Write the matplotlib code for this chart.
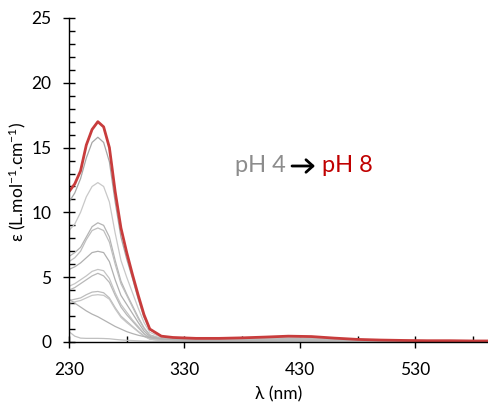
import matplotlib
matplotlib.use("Agg")
import matplotlib.pyplot as plt
from matplotlib.ticker import MultipleLocator, FixedLocator

plt.rcParams['font.family'] = ['Lato', 'DejaVu Sans']
plt.rcParams['mathtext.fontset'] = 'custom'
plt.rcParams['mathtext.rm'] = 'Lato'
plt.rcParams['mathtext.it'] = 'Lato:italic'

wavelength = [230, 235, 240, 245, 250, 255, 260, 265, 270, 275, 280, 285, 290, 295, 300,
              310, 320, 340, 360, 380, 400, 420, 440, 460, 480, 500, 520, 540, 560, 580, 593]

red_pH8 = [11.6, 12.2, 13.2, 15.2, 16.4, 17.0, 16.6, 15.0, 11.6, 8.8, 6.9, 5.2, 3.6, 2.1, 1.0,
           0.45, 0.35, 0.28, 0.28, 0.32, 0.38, 0.45, 0.42, 0.3, 0.2, 0.15, 0.12, 0.1, 0.1, 0.08, 0.08]

gray_series = [
    [10.8, 11.5, 12.6, 14.2, 15.4, 15.8, 15.4, 13.9, 10.8, 8.1, 6.4, 4.9, 3.3, 1.9, 0.95,
     0.43, 0.32, 0.25, 0.25, 0.29, 0.34, 0.4, 0.38, 0.27, 0.18, 0.13, 0.11, 0.09, 0.09, 0.07, 0.07],
    [8.6, 9.1, 10.0, 11.2, 12.0, 12.3, 12.0, 10.8, 8.4, 6.3, 5.0, 3.8, 2.6, 1.5, 0.75,
     0.35, 0.26, 0.2, 0.2, 0.24, 0.28, 0.33, 0.31, 0.22, 0.15, 0.11, 0.09, 0.08, 0.07, 0.06, 0.06],
    [6.6, 6.9, 7.3, 8.1, 8.9, 9.2, 9.0, 8.1, 6.3, 4.7, 3.7, 2.8, 1.9, 1.1, 0.55,
     0.27, 0.2, 0.16, 0.16, 0.19, 0.23, 0.27, 0.25, 0.18, 0.12, 0.09, 0.07, 0.06, 0.06, 0.05, 0.05],
    [6.2, 6.5, 7.0, 7.9, 8.6, 8.8, 8.6, 7.7, 6.0, 4.5, 3.6, 2.7, 1.8, 1.05, 0.53,
     0.25, 0.19, 0.15, 0.15, 0.18, 0.22, 0.25, 0.24, 0.17, 0.11, 0.08, 0.07, 0.06, 0.05, 0.05, 0.05],
    [5.6, 5.8, 6.1, 6.5, 6.9, 7.0, 6.9, 6.2, 4.8, 3.6, 2.9, 2.2, 1.5, 0.85, 0.43,
     0.2, 0.15, 0.12, 0.12, 0.14, 0.17, 0.2, 0.19, 0.14, 0.09, 0.07, 0.06, 0.05, 0.04, 0.04, 0.04],
    [4.3, 4.5, 4.8, 5.1, 5.45, 5.6, 5.5, 4.9, 3.8, 2.9, 2.3, 1.7, 1.2, 0.67, 0.34,
     0.16, 0.12, 0.1, 0.1, 0.12, 0.14, 0.16, 0.15, 0.11, 0.07, 0.06, 0.05, 0.04, 0.04, 0.03, 0.03],
    [4.0, 4.2, 4.5, 4.8, 5.1, 5.3, 5.1, 4.6, 3.6, 2.7, 2.1, 1.6, 1.1, 0.62, 0.31,
     0.15, 0.11, 0.09, 0.09, 0.11, 0.13, 0.15, 0.14, 0.1, 0.07, 0.05, 0.04, 0.04, 0.03, 0.03, 0.03],
    [3.2, 3.3, 3.4, 3.65, 3.85, 3.9, 3.8, 3.4, 2.65, 2.0, 1.6, 1.2, 0.82, 0.47, 0.23,
     0.11, 0.08, 0.07, 0.07, 0.08, 0.1, 0.12, 0.11, 0.08, 0.05, 0.04, 0.03, 0.03, 0.03, 0.02, 0.02],
    [3.0, 3.1, 3.2, 3.4, 3.6, 3.65, 3.6, 3.3, 2.55, 1.9, 1.5, 1.15, 0.78, 0.44, 0.22,
     0.1, 0.08, 0.06, 0.06, 0.08, 0.09, 0.11, 0.1, 0.07, 0.05, 0.04, 0.03, 0.03, 0.02, 0.02, 0.02],
    [3.3, 3.0, 2.7, 2.4, 2.15, 1.95, 1.7, 1.45, 1.2, 1.0, 0.8, 0.65, 0.52, 0.42, 0.35,
     0.25, 0.18, 0.12, 0.1, 0.1, 0.11, 0.12, 0.11, 0.08, 0.06, 0.05, 0.04, 0.03, 0.03, 0.02, 0.02],
    [0.8, 0.45, 0.3, 0.28, 0.28, 0.28, 0.27, 0.25, 0.2, 0.16, 0.13, 0.11, 0.09, 0.07, 0.06,
     0.05, 0.04, 0.03, 0.03, 0.03, 0.04, 0.05, 0.05, 0.04, 0.03, 0.02, 0.02, 0.02, 0.02, 0.02, 0.02],
]
gray_colors = ['#a6a6a6', '#c8c8c8', '#b4b4b4', '#bebebe', '#b0b0b0', '#c4c4c4',
               '#b8b8b8', '#bcbcbc', '#c6c6c6', '#b2b2b2', '#c0c0c0']

x_major = [230, 330, 430, 530]
x_minor = [280, 380, 480, 580]

W, H = 488, 403
fig = plt.figure(figsize=(W / 100, H / 100), dpi=100)
ax = fig.add_axes([69 / W, (H - 342) / H, (W - 69) / W, (342 - 18) / H])

for ys, c in zip(gray_series, gray_colors):
    ax.plot(wavelength, ys, color=c, lw=0.9)
ax.plot(wavelength, red_pH8, color='#c83c3c', lw=2.0)

ax.set_xlim(230, 593)
ax.set_ylim(0, 25)
ax.xaxis.set_major_locator(FixedLocator(x_major))
ax.xaxis.set_minor_locator(FixedLocator(x_minor))
ax.yaxis.set_major_locator(MultipleLocator(5))
ax.yaxis.set_minor_locator(MultipleLocator(1))
ax.tick_params(which='major', direction='inout', length=9, width=1, labelsize=12.5, colors='black')
ax.tick_params(which='minor', direction='in', length=4.5, width=1)
ax.tick_params(axis='x', which='major', pad=10)
ax.tick_params(axis='y', which='major', pad=8)
ax.spines['top'].set_visible(False)
ax.spines['right'].set_visible(False)
for s in ('left', 'bottom'):
    ax.spines[s].set_linewidth(1.0)
    ax.spines[s].set_color('black')

ax.set_xlabel('λ (nm)', fontsize=12.5, labelpad=6)
ax.set_ylabel('ε (L.mol$^{-1}$.cm$^{-1}$)', fontsize=12.5)
ax.yaxis.set_label_coords((28 - 69) / (W - 69), (342 - 182) / (342 - 18))

fig.text(235 / W, 1 - 165 / H, 'pH 4', color='#8c8c8c', fontsize=17, va='center', ha='left')
fig.text(322 / W, 1 - 165 / H, 'pH 8', color='#c00000', fontsize=17, va='center', ha='left')
ax.annotate('', xy=(315, H - 166), xytext=(292, H - 166),
            xycoords='figure pixels', textcoords='figure pixels',
            arrowprops=dict(arrowstyle='->,head_length=0.5,head_width=0.45',
                            lw=2.0, color='black', shrinkA=0, shrinkB=0))

fig.savefig('out.png', dpi=100)
